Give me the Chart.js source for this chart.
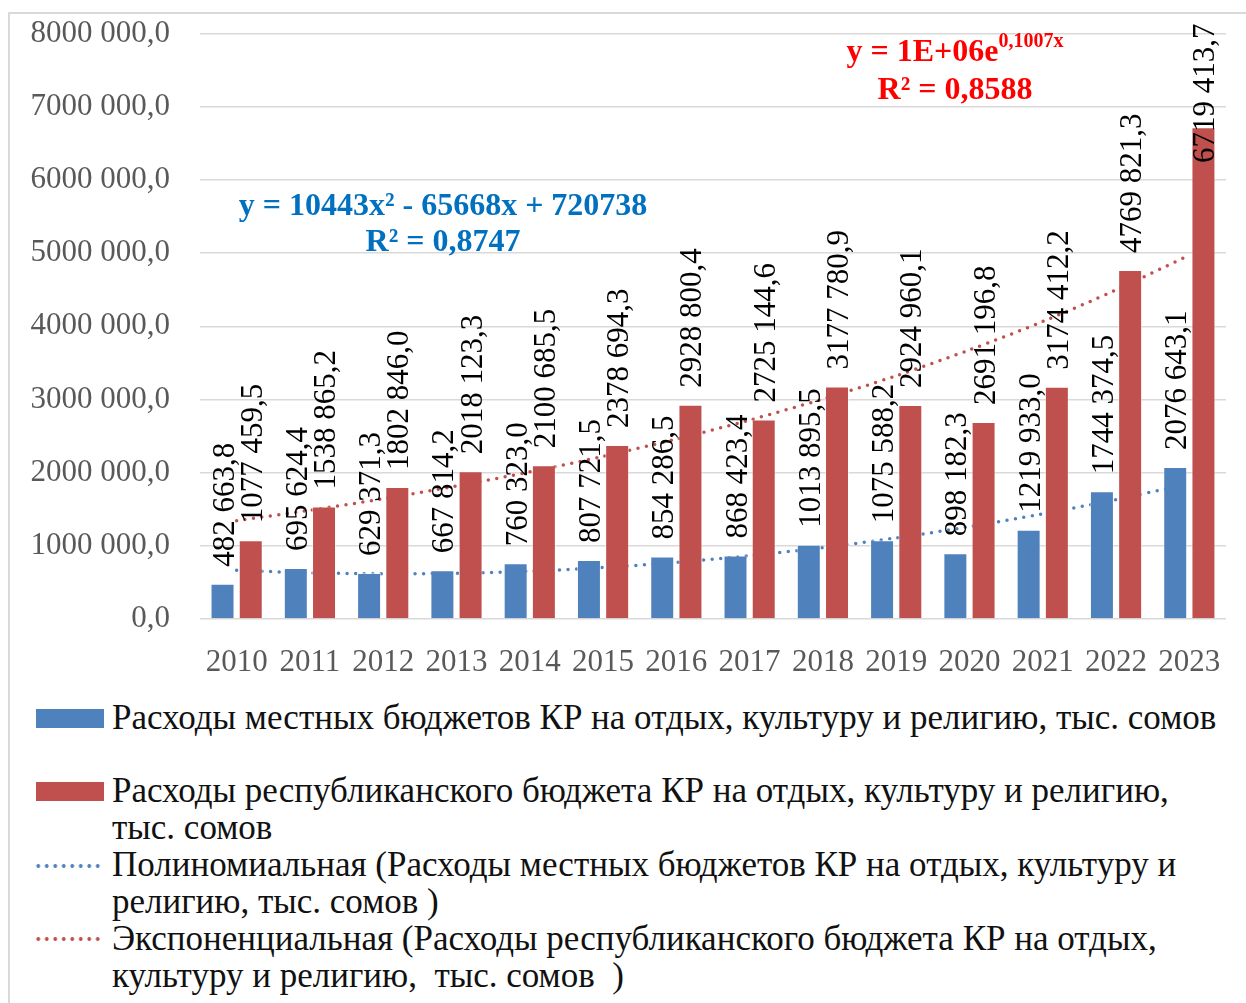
<!DOCTYPE html>
<html lang="ru">
<head>
<meta charset="utf-8">
<script src="https://cdn.jsdelivr.net/npm/chart.js@4"></script>
<style>
  html, body { margin: 0; padding: 0; background: #fff; }
  body { width: 1246px; height: 1003px; position: relative; overflow: hidden; font-family: "Liberation Serif", serif; }
  #frame { position: absolute; left: 8px; top: 12px; width: 1300px; height: 1100px; border-left: 2px solid #d9d9d9; border-top: 2px solid #d9d9d9; }
  #chart-wrap { position: absolute; left: 0; top: -15px; width: 1246px; height: 705px; }
  .eq { position: absolute; font-weight: bold; font-size: 32px; text-align: center; white-space: nowrap; }
  .eq sup { font-size: 20px; vertical-align: 14px; line-height: 0; }
  .leg { position: absolute; left: 112px; width: 1115px; font-size: 35px; line-height: 37px; color: #111; }
  .sw { position: absolute; left: 36px; width: 68px; height: 19px; }
  .dots { position: absolute; left: 34px; width: 68px; height: 6px; background-size: 8.5px 6px; background-repeat: repeat-x; }
</style>
</head>
<body>
<div id="frame"></div>
<div id="chart-wrap"><canvas id="budget-chart"></canvas></div>

<div class="eq" style="left:193px; top:186px; width:500px; line-height:36px; color:#0070c0;">y = 10443x² - 65668x + 720738<br>R² = 0,8747</div>
<div class="eq" style="left:755px; top:31px; width:400px; line-height:38px; color:#ff0000;">y = 1E+06e<sup>0,1007x</sup><br>R² = 0,8588</div>

<div class="sw" style="top:709px; background:#4f81bd;"></div>
<div class="leg" style="top:699px;">Расходы местных бюджетов КР на отдых, культуру и религию, тыс. сомов</div>
<div class="sw" style="top:782px; background:#c0504d;"></div>
<div class="leg" style="top:772px;">Расходы республиканского бюджета КР на отдых, культуру и религию, тыс. сомов</div>
<div class="dots" style="top:863px; background-image: radial-gradient(circle, #4f81bd 1.6px, transparent 2.2px);"></div>
<div class="leg" style="top:846px;">Полиномиальная (Расходы местных бюджетов КР на отдых, культуру и религию, тыс. сомов )</div>
<div class="dots" style="top:936px; background-image: radial-gradient(circle, #c0504d 1.6px, transparent 2.2px);"></div>
<div class="leg" style="top:920px;">Экспоненциальная (Расходы республиканского бюджета КР на отдых, культуру и религию,&nbsp; тыс. сомов&nbsp; )</div>

<script>
// ─── Данные ──────────────────────────────────────────────────────────────────

const years = ["2010", "2011", "2012", "2013", "2014", "2015", "2016", "2017", "2018", "2019", "2020", "2021", "2022", "2023"];

const localBudget = [482663.8, 695624.4, 629371.3, 667814.2, 760323.0, 807721.5, 854286.5, 868423.4, 1013895.5, 1075588.2, 898182.3, 1219933.0, 1744374.5, 2076643.1];
const republicBudget = [1077459.5, 1538865.2, 1802846.0, 2018123.3, 2100685.5, 2378694.3, 2928800.4, 2725144.6, 3177780.9, 2924960.1, 2691196.8, 3174412.2, 4769821.3, 6719413.7];

// линии тренда
const localTrend = [665000, 631000, 618000, 625000, 653000, 703000, 773000, 864000, 976000, 1108000, 1262000, 1437000, 1632000, 1848000];
const republicTrend = [1344000, 1486000, 1643000, 1817000, 2010000, 2223000, 2458000, 2718000, 3006000, 3324000, 3677000, 4066000, 4497000, 4973000];

// ─── Формат чисел: "8000 000,0" ─────────────────────────────────────────────

function fmt(v) {
  const parts = v.toFixed(1).split(".");
  let int = parts[0];
  if (int.length > 3) int = int.slice(0, -3) + " " + int.slice(-3);
  return int + "," + parts[1];
}

// ─── Подписи значений (повернутые) ──────────────────────────────────────────

const barLabels = {
  id: "barLabels",
  afterDatasetsDraw(chart) {
    const ctx = chart.ctx;
    const top = chart.chartArea.top - 10;
    ctx.save();
    ctx.font = "31px 'Liberation Serif'";
    ctx.fillStyle = "#000";
    ctx.textAlign = "left";
    ctx.textBaseline = "alphabetic";
    [0, 1].forEach(di => {
      const meta = chart.getDatasetMeta(di);
      meta.data.forEach((bar, i) => {
        const txt = fmt(chart.data.datasets[di].data[i]);
        const w = ctx.measureText(txt).width;
        let start = bar.y - 17;
        if (start - w < top) start = top + w;
        ctx.save();
        ctx.translate(bar.x + 11, start);
        ctx.rotate(-Math.PI / 2);
        ctx.fillText(txt, 0, 0);
        ctx.restore();
      });
    });
    ctx.restore();
  }
};

// ─── График ──────────────────────────────────────────────────────────────────

new Chart(document.getElementById("budget-chart"), {
  type: "bar",
  data: {
    labels: years,
    datasets: [
      { data: localBudget, backgroundColor: "#4f81bd", borderColor: "rgba(255,255,255,0.5)", borderWidth: 1, categoryPercentage: 0.77, barPercentage: 0.85, order: 1 },
      { data: republicBudget, backgroundColor: "#c0504d", borderColor: "rgba(255,255,255,0.5)", borderWidth: 1, categoryPercentage: 0.77, barPercentage: 0.85, order: 1 },
      { type: "line", data: localTrend, borderColor: "#4f81bd", borderWidth: 3.5, borderDash: [0, 8.5], borderCapStyle: "round", pointRadius: 0, tension: 0.3, order: 2 },
      { type: "line", data: republicTrend, borderColor: "#c0504d", borderWidth: 3.5, borderDash: [0, 8.5], borderCapStyle: "round", pointRadius: 0, tension: 0.3, order: 2 },
    ]
  },
  options: {
    responsive: true,
    maintainAspectRatio: false,
    animation: false,
    layout: { padding: { top: 17, right: 19, bottom: 0, left: 0 } },
    plugins: { legend: { display: false }, tooltip: { enabled: false } },
    scales: {
      x: {
        grid: { display: false, drawTicks: false },
        border: { display: false },
        ticks: { color: "#595959", font: { family: "Liberation Serif", size: 31 }, padding: 25, maxRotation: 0, autoSkip: false },
        afterFit: s => { s.height = 71; },
      },
      y: {
        min: 0,
        max: 8000000,
        grid: { color: "#d9d9d9", lineWidth: 1.5, drawTicks: false },
        border: { display: false },
        ticks: { stepSize: 1000000, color: "#595959", font: { family: "Liberation Serif", size: 31 }, padding: 30, callback: v => fmt(v) },
        afterFit: s => { s.width = 200; },
      }
    }
  },
  plugins: [barLabels]
});
</script>
</body>
</html>
